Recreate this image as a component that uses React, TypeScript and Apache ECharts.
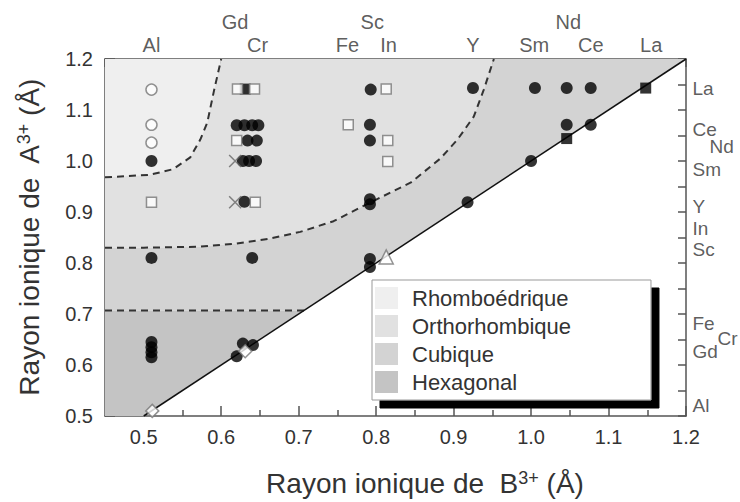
import React, { useEffect, useRef } from "react";
import * as echarts from "echarts";

const FONT = "'Liberation Sans', Arial, sans-serif";
const TXT = "#333";
const AX = "#555";

// Axis tick labels (x: B3+ radius, y: A3+ radius)
const xMajorTicks = [0.5, 0.6, 0.7, 0.8, 0.9, 1.0, 1.1, 1.2];
const xMinorTicks = [0.55, 0.65, 0.75, 0.85, 0.95, 1.05, 1.15];

// Top ion labels (B site)
const topIons = ["Al", "Gd", "Cr", "Fe", "Sc", "In", "Y", "Sm", "Nd", "Ce", "La"];
const topIonX = [0.51, 0.618, 0.647, 0.763, 0.795, 0.816, 0.925, 1.004, 1.048, 1.077, 1.155];
const topIonRow = [0, 1, 0, 0, 1, 0, 0, 0, 1, 0, 0];

// Right ion labels (A site); shift: 0 = next to axis, 1/2 = staggered to the right
const rightIons = ["La", "Ce", "Nd", "Sm", "Y", "In", "Sc", "Fe", "Cr", "Gd", "Al"];
const rightIonY = [1.143, 1.062, 1.028, 0.984, 0.91, 0.867, 0.826, 0.681, 0.652, 0.627, 0.52];
const rightIonShift = [0, 0, 1, 0, 0, 0, 0, 0, 2, 0, 0];

// Phase boundaries
const upperCurveX = [0.45, 0.508, 0.538, 0.56, 0.573, 0.582, 0.591, 0.6];
const upperCurveY = [0.968, 0.973, 0.984, 1.007, 1.042, 1.075, 1.14, 1.2];
const lowerCurveX = [0.45, 0.5, 0.573, 0.62, 0.66, 0.702, 0.745, 0.793, 0.845, 0.883, 0.905, 0.926, 0.939, 0.952];
const lowerCurveY = [0.83, 0.83, 0.832, 0.838, 0.847, 0.861, 0.882, 0.919, 0.958, 1.005, 1.042, 1.087, 1.14, 1.2];
const hexBoundary = 0.707;
const diagonal = [[0.5, 0.5], [1.2, 1.2]];

// Data markers
const filledCircles = [
  [0.51, 1.0], [0.51, 0.81], [0.51, 0.645], [0.51, 0.635], [0.51, 0.625], [0.51, 0.615],
  [0.62, 1.07], [0.63, 1.07], [0.64, 1.07], [0.648, 1.07],
  [0.634, 1.04], [0.646, 1.04],
  [0.628, 1.0], [0.636, 1.0], [0.645, 1.0],
  [0.63, 0.92], [0.64, 0.81],
  [0.62, 0.617], [0.628, 0.642], [0.641, 0.639],
  [0.793, 1.14], [0.792, 1.071], [0.792, 1.04], [0.792, 0.925], [0.792, 0.915], [0.792, 0.808], [0.792, 0.792],
  [0.925, 1.143], [0.918, 0.919],
  [1.005, 1.143], [1.0, 1.0],
  [1.046, 1.143], [1.046, 1.071],
  [1.077, 1.143], [1.077, 1.071],
];
const openCircles = [[0.51, 1.14], [0.51, 1.071], [0.51, 1.036]];
const filledSquares = [[0.631, 1.141], [1.046, 1.044], [1.148, 1.143]];
const openSquares = [
  [0.51, 0.919], [0.621, 1.141], [0.643, 1.141], [0.62, 1.04], [0.644, 0.919],
  [0.764, 1.071], [0.813, 1.141], [0.815, 1.04], [0.815, 0.999],
];
const crosses = [[0.618, 1.0], [0.618, 0.919]];
const diamonds = [[0.511, 0.51], [0.631, 0.627]];
const triangles = [[0.813, 0.812]];

const regionNames = ["Rhomboédrique", "Orthorhombique", "Cubique", "Hexagonal"];
const regionColors = ["#efefef", "#e1e1e1", "#d3d3d3", "#c4c4c4"];

const zip = (xs: number[], ys: number[]) => xs.map((x, i) => [x, ys[i]]);
const shiftDistance = [6, 23, 31];

export default function App() {
  const ref = useRef<HTMLDivElement>(null);
  useEffect(() => {
    if (!ref.current) return;
    const chart = echarts.init(ref.current, undefined, { renderer: "svg" });

    const upper = zip(upperCurveX, upperCurveY);
    const lower = zip(lowerCurveX, lowerCurveY);
    const rhomboPoly = [...upper, [0.45, 1.2]];
    const orthoPoly = [...lower, ...upper.slice().reverse()];
    const cubicPoly = [[0.45, hexBoundary], [hexBoundary, hexBoundary], [1.2, 1.2], ...lower.slice().reverse()];
    const hexPoly = [[0.45, 0.5], [0.5, 0.5], [hexBoundary, hexBoundary], [0.45, hexBoundary]];
    const polys = [rhomboPoly, orthoPoly, cubicPoly, hexPoly];

    const regionSeries = regionNames.map((name, i) => ({
      type: "custom",
      name,
      coordinateSystem: "cartesian2d",
      silent: true,
      z: 1,
      itemStyle: { color: regionColors[i] },
      data: [polys[i][0]],
      renderItem: (_p: any, api: any) => ({
        type: "polygon",
        shape: { points: polys[i].map((p) => api.coord(p)) },
        style: { fill: regionColors[i] },
      }),
    }));

    const dashed = (data: number[][]) => ({
      type: "line",
      data,
      symbol: "none",
      silent: true,
      z: 3,
      lineStyle: { type: [7, 5], color: "#333", width: 2 },
    });

    const scatter = (data: number[][], symbol: string, size: number, style: any, z = 5) => ({
      type: "scatter",
      data,
      symbol,
      symbolSize: size,
      itemStyle: style,
      z,
      silent: true,
    });

    const openStyle = { color: "#fff", borderColor: "#777", borderWidth: 1.5 };
    const labelBase = { show: true, fontSize: 20, color: TXT, fontFamily: FONT };

    const topLabelSeries = {
      type: "scatter",
      silent: true,
      clip: false,
      symbolSize: 1,
      itemStyle: { color: "rgba(0,0,0,0)" },
      z: 6,
      data: topIons.map((n, i) => ({
        name: n,
        value: [topIonX[i], 1.2],
        label: { ...labelBase, position: "top", distance: topIonRow[i] ? 27 : 4, formatter: n },
      })),
    };
    const rightLabelSeries = {
      type: "scatter",
      silent: true,
      clip: false,
      symbolSize: 1,
      itemStyle: { color: "rgba(0,0,0,0)" },
      z: 6,
      data: rightIons.map((n, i) => ({
        name: n,
        value: [1.2, rightIonY[i]],
        label: {
          ...labelBase,
          fontSize: 19,
          lineHeight: 19,
          position: "right",
          distance: shiftDistance[rightIonShift[i]],
          formatter: n,
        },
      })),
    };

    const axisLine = { show: true, lineStyle: { color: AX, width: 1.5 } };
    const nameRich = {
      t: { fontSize: 28, color: TXT, fontFamily: FONT, lineHeight: 32 },
      s: { fontSize: 18, color: TXT, fontFamily: FONT, verticalAlign: "top", lineHeight: 22, padding: [2, 0, 0, 0] },
    };

    chart.setOption({
      animation: false,
      backgroundColor: "#fff",
      grid: { left: 105, right: 54, top: 59, bottom: 84 },
      legend: {
        data: regionNames,
        orient: "vertical",
        left: 372,
        top: 280,
        icon: "rect",
        itemWidth: 23,
        itemHeight: 22,
        itemGap: 6,
        padding: [7, 80, 7, 3],
        backgroundColor: "#fff",
        borderColor: "#999",
        borderWidth: 1,
        shadowColor: "#000",
        shadowBlur: 0,
        shadowOffsetX: 8,
        shadowOffsetY: 8,
        selectedMode: false,
        textStyle: { fontSize: 22, color: TXT, fontFamily: FONT, padding: [0, 0, 0, 9] },
      },
      xAxis: [
        {
          type: "value",
          position: "bottom",
          min: 0.45,
          max: 1.2,
          interval: 0.05,
          axisLine,
          splitLine: { show: false },
          axisTick: { show: true, inside: true, length: 10, customValues: xMajorTicks, lineStyle: { color: AX, width: 1.5 } },
          axisLabel: {
            customValues: xMajorTicks,
            fontSize: 20,
            color: TXT,
            fontFamily: FONT,
            margin: 11,
            formatter: (v: number) => v.toFixed(1),
          },
          name: "{t|Rayon ionique de  B}{s|3+}{t| (Å)}",
          nameLocation: "middle",
          nameGap: 51,
          nameTextStyle: { rich: nameRich, padding: [0, 0, 0, 59] },
        },
        {
          type: "value",
          position: "top",
          min: 0.45,
          max: 1.2,
          interval: 0.05,
          axisLine,
          splitLine: { show: false },
          axisTick: { show: true, inside: true, length: 8, lineStyle: { color: AX, width: 1.5 } },
          axisLabel: { show: false },
        },
        {
          type: "value",
          position: "bottom",
          min: 0.45,
          max: 1.2,
          interval: 0.05,
          axisLine: { show: false },
          splitLine: { show: false },
          axisTick: { show: true, inside: true, length: 6, customValues: xMinorTicks, lineStyle: { color: AX, width: 1.5 } },
          axisLabel: { show: false },
        },
      ],
      yAxis: [
        {
          type: "value",
          position: "left",
          min: 0.5,
          max: 1.2,
          interval: 0.1,
          axisLine,
          splitLine: { show: false },
          axisTick: { show: true, inside: true, length: 10, lineStyle: { color: AX, width: 1.5 } },
          minorTick: { show: true, splitNumber: 2, length: 5, lineStyle: { color: AX, width: 1.5 } },
          minorSplitLine: { show: false },
          axisLabel: { fontSize: 20, color: TXT, fontFamily: FONT, margin: 12, formatter: (v: number) => v.toFixed(1) },
          name: "{t|Rayon ionique de  A}{s|3+}{t| (Å)}",
          nameLocation: "middle",
          nameGap: 60,
          nameTextStyle: { rich: nameRich },
        },
        {
          type: "value",
          position: "right",
          min: 0.5,
          max: 1.2,
          interval: 0.05,
          axisLine,
          splitLine: { show: false },
          axisTick: { show: true, inside: true, length: 8, lineStyle: { color: AX, width: 1.5 } },
          axisLabel: { show: false },
        },
      ],
      series: [
        ...regionSeries,
        dashed(upper),
        dashed(lower),
        dashed([[0.45, hexBoundary], [hexBoundary, hexBoundary]]),
        {
          type: "line",
          data: diagonal,
          symbol: "none",
          silent: true,
          z: 3,
          lineStyle: { color: "#111", width: 1.5 },
        },
        scatter(filledCircles, "circle", 12, { color: "#000" }),
        scatter(openCircles, "circle", 11, openStyle),
        scatter(filledSquares, "rect", 11, { color: "#000" }),
        scatter(openSquares, "rect", 10, openStyle, 6),
        scatter(crosses, "path://M0 0L10 10M10 0L0 10", 12, { color: "none", borderColor: "#666", borderWidth: 1.5 }),
        scatter(diamonds, "diamond", 13, openStyle, 6),
        scatter(triangles, "triangle", 14, openStyle, 6),
        topLabelSeries,
        rightLabelSeries,
      ],
    } as any);

    return () => chart.dispose();
  }, []);

  return <div ref={ref} style={{ position: "fixed", left: 0, top: 0, width: 740, height: 502 }} />;
}
